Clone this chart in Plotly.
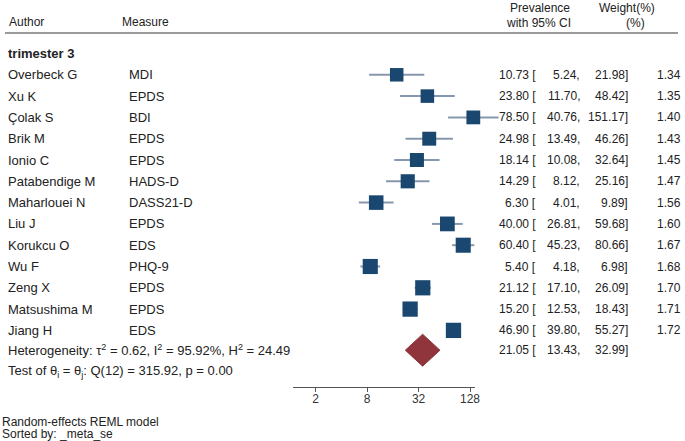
import math
import plotly.graph_objects as go

# ---------------- data ----------------
group_label = "trimester 3"
authors = ["Overbeck G", "Xu K", "Çolak S", "Brik M", "Ionio C", "Patabendige M",
           "Maharlouei N", "Liu J", "Korukcu O", "Wu F", "Zeng X", "Matsushima M", "Jiang H"]
measures = ["MDI", "EPDS", "BDI", "EPDS", "EPDS", "HADS-D", "DASS21-D", "EPDS",
            "EDS", "PHQ-9", "EPDS", "EPDS", "EDS"]
prevalence = [10.73, 23.80, 78.50, 24.98, 18.14, 14.29, 6.30, 40.00, 60.40, 5.40, 21.12, 15.20, 46.90]
ci_low = [5.24, 11.70, 40.76, 13.49, 10.08, 8.12, 4.01, 26.81, 45.23, 4.18, 17.10, 12.53, 39.80]
ci_high = [21.98, 48.42, 151.17, 46.26, 32.64, 25.16, 9.89, 59.68, 80.66, 6.98, 26.09, 18.43, 55.27]
weights = [1.34, 1.35, 1.40, 1.43, 1.45, 1.47, 1.56, 1.60, 1.67, 1.68, 1.70, 1.71, 1.72]
pooled = 21.05
pooled_low = 13.43
pooled_high = 32.99
tau2, I2, H2 = 0.62, 95.92, 24.49
Q, Q_df, Q_p = 315.92, 12, 0.00
axis_ticks = [2, 8, 32, 128]
footnotes = ["Random-effects REML model", "Sorted by: _meta_se"]

# ---------------- layout helpers ----------------
W, H = 685, 441
FONT = "Liberation Sans"
TXT = "#222222"
ROW0_PX, ROW_STEP = 53.5, 21.3


def px(x):
    return x / W


def py(y):
    return 1 - y / H


# data x-axis (log) : 88.65 px per decade, value 10.73 at 396.7 px
PX_PER_DEC = 88.65
ref_px, ref_val = 396.7, 10.73
dom_l, dom_r = 270, 520
rng_l = math.log10(ref_val) - (ref_px - dom_l) / PX_PER_DEC
rng_r = math.log10(ref_val) + (dom_r - ref_px) / PX_PER_DEC

row_min = -ROW0_PX / ROW_STEP
row_max = (H - ROW0_PX) / ROW_STEP

n = len(authors)
study_rows = list(range(1, n + 1))
het_row = n + 0.93
test_row = n + 1.93

fig = go.Figure()

# dummy trace carrying the visible axis (added first so data draw above it)
fig.add_trace(go.Scatter(x=axis_ticks, y=[row_max + 5] * len(axis_ticks), mode="markers",
                         marker=dict(opacity=0), hoverinfo="skip", xaxis="x2", yaxis="y"))

# CI lines
cx, cy = [], []
for lo, hi, r in zip(ci_low, ci_high, study_rows):
    cx += [lo, hi, None]
    cy += [r, r, None]
fig.add_trace(go.Scatter(x=cx, y=cy, mode="lines", line=dict(color="#8797ad", width=2),
                         hoverinfo="skip", xaxis="x", yaxis="y"))

# study markers (area ~ weight)
sizes = [13.5 * math.sqrt(w / min(weights)) for w in weights]
fig.add_trace(go.Scatter(x=prevalence, y=study_rows, mode="markers",
                         marker=dict(symbol="square", size=sizes, color="#1a476f",
                                     opacity=1, line=dict(width=0)),
                         hoverinfo="skip", xaxis="x", yaxis="y"))

# pooled diamond
dh = 0.75
fig.add_trace(go.Scatter(x=[pooled_low, pooled, pooled_high, pooled, pooled_low],
                         y=[het_row, het_row - dh, het_row, het_row + dh, het_row],
                         mode="lines", fill="toself", fillcolor="#90353b",
                         line=dict(color="#90353b", width=1), hoverinfo="skip",
                         xaxis="x", yaxis="y"))

ann = []


def text(x, y, s, anchor="left", size=13, yref="y", bold=False):
    if bold:
        s = "<b>" + s + "</b>"
    ann.append(dict(x=px(x), xref="paper", y=y, yref=yref, text=s, showarrow=False,
                    xanchor=anchor, yanchor="middle",
                    font=dict(family=FONT, size=size, color=TXT)))


# headers
text(7, py(22), "Author", size=12, yref="paper")
text(120, py(22), "Measure", size=12, yref="paper")
text(540, py(8), "Prevalence", anchor="center", size=12, yref="paper")
text(538, py(23), "with 95% CI", anchor="center", size=12, yref="paper")
text(627, py(8), "Weight(%)", anchor="center", size=12, yref="paper")
text(635, py(23), "(%)", anchor="center", size=12, yref="paper")

text(6, 0, group_label, bold=True)

NUM = 12
for i in range(n):
    r = study_rows[i]
    text(6, r, authors[i])
    text(127, r, measures[i])
    text(538, r, f"{prevalence[i]:.2f} [", anchor="right", size=NUM)
    text(582, r, f"{ci_low[i]:.2f},", anchor="right", size=NUM)
    text(630, r, f"{ci_high[i]:.2f}]", anchor="right", size=NUM)
    text(683, r, f"{weights[i]:.2f}", anchor="right", size=NUM)

text(6, het_row, f"Heterogeneity: τ<sup>2</sup> = {tau2:.2f}, I<sup>2</sup> = {I2:.2f}%, "
                 f"H<sup>2</sup> = {H2:.2f}")
text(538, het_row, f"{pooled:.2f} [", anchor="right", size=NUM)
text(582, het_row, f"{pooled_low:.2f},", anchor="right", size=NUM)
text(630, het_row, f"{pooled_high:.2f}]", anchor="right", size=NUM)
text(6, test_row, f"Test of θ<sub>i</sub> = θ<sub>j</sub>: Q({Q_df}) = {Q:.2f}, p = {Q_p:.2f}")

text(0, py(422), footnotes[0], size=12, yref="paper")
text(0, py(434), footnotes[1], size=12, yref="paper")

fig.update_layout(
    width=W, height=H, margin=dict(l=0, r=0, t=0, b=0, pad=0, autoexpand=False),
    paper_bgcolor="white", plot_bgcolor="rgba(0,0,0,0)", showlegend=False,
    annotations=ann,
    shapes=[dict(type="line", xref="paper", yref="paper", x0=px(5), x1=px(678),
                 y0=py(33), y1=py(33), line=dict(color="#7a7a7a", width=1.5))],
    xaxis=dict(type="log", domain=[px(dom_l), px(dom_r)], range=[rng_l, rng_r],
               visible=False, fixedrange=True),
    xaxis2=dict(type="log", domain=[px(293), px(475)],
                range=[math.log10(2) - 22.7 / 85.4, math.log10(128) + 5 / 85.4],
                anchor="free", position=py(387), showline=True, linecolor="#555555",
                linewidth=1, ticks="outside", ticklen=4, tickcolor="#555555",
                tickvals=axis_ticks, ticktext=[str(t) for t in axis_ticks],
                tickfont=dict(family=FONT, size=12, color="#333333"),
                ticklabelstandoff=-3,
                showgrid=False, zeroline=False, fixedrange=True),
    yaxis=dict(range=[row_max, row_min], domain=[0, 1], visible=False, fixedrange=True),
)

fig.write_html("out.html", config={"displayModeBar": False},
               post_script="document.body.style.margin='0';document.body.style.padding='0';")
